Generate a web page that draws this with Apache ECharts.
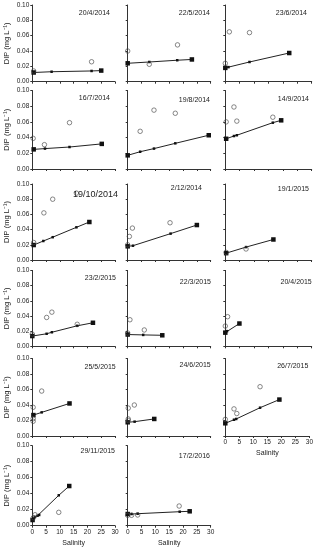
<!DOCTYPE html>
<html><head><meta charset="utf-8">
<script src="https://cdn.jsdelivr.net/npm/echarts@6/dist/echarts.min.js"></script>
<style>html,body{margin:0;padding:0;background:#fff}#c{width:316px;height:550px}</style>
</head><body><div id="c"></div>
<script>
const titles = ['20/4/2014','22/5/2014','23/6/2014','16/7/2014','19/8/2014','14/9/2014','19/10/2014','2/12/2014','19/1/2015','23/2/2015','22/3/2015','20/4/2015','25/5/2015','24/6/2015','26/7/2015','29/11/2015','17/2/2016'];
const xTicks = [0,5,10,15,20,25,30];
const yTicks = [0,0.02,0.04,0.06,0.08,0.10];
// mixing line (filled markers)
const mixSal = [
 [0.5,7,21.5,25],[0,7.8,17.9,23.2],[0,1.1,8.4,22.2],
 [0.5,4.6,13.5,25.2],[0,4.5,9.5,17.2,29.3],[0.3,3,4,16.5,19.4],
 [0.5,4,7.4,16,20.7],[0,1.9,15.5,25],[0.3,7.2,16.7],
 [0,5.2,7.1,16.3,22],[0,5.6,12.5],[0,0.6,4.9],
 [0.4,3.4,13.5],[0,2.5,9.6],[0,3.1,3.9,12.4,19.3],
 [0.1,0.4,1,1.9,2.5,9.6,13.4],[0,1.4,3.6,18.8,22.4]
];
const mixDip = [
 [0.012,0.013,0.014,0.0145],[0.024,0.0257,0.028,0.029],[0.018,0.019,0.0257,0.0374],
 [0.025,0.026,0.028,0.032],[0.0174,0.022,0.026,0.0327,0.043],[0.0385,0.042,0.043,0.059,0.062],
 [0.0197,0.025,0.030,0.043,0.050],[0.018,0.0188,0.0347,0.046],[0.009,0.017,0.027],
 [0.0135,0.0165,0.0185,0.027,0.031],[0.0155,0.015,0.0145],[0.018,0.020,0.030],
 [0.027,0.0305,0.042],[0.0177,0.0185,0.022],[0.0164,0.021,0.022,0.0365,0.047],
 [0.0071,0.009,0.011,0.0125,0.0134,0.038,0.0496],[0.0146,0.0146,0.0150,0.0175,0.018]
];
// measured (open circles)
const obsSal = [
 [0.5,21.5],[0,7.8,18],[0,1.4,8.4],
 [0.3,4.4,13.5],[4.5,9.5,17.2],[0.3,3,4,16.5],
 [0.5,4.2,7.4,16],[0,0.6,1.7,15.3],[0.3,7.2],
 [0,5.2,7.1,16.3],[0,0.8,6],[0,0.8],
 [0.3,0.3,0.3,3.4],[0.2,2.4,0.2,0.2],[0,3.1,4.1,12.4],
 [0.4,1,9.6],[0,1.4,3.6,18.6]
];
const obsDip = [
 [0.014,0.026],[0.040,0.0227,0.048],[0.024,0.065,0.064],
 [0.039,0.031,0.059],[0.048,0.075,0.071],[0.060,0.079,0.061,0.066],
 [0.023,0.062,0.080,0.088],[0.02,0.031,0.042,0.049],[0.01,0.0145],
 [0.016,0.038,0.045,0.029],[0.0175,0.035,0.0215],[0.0267,0.039],
 [0.037,0.0223,0.019,0.058],[0.036,0.040,0.022,0.020],[0.0215,0.035,0.029,0.0636],
 [0.010,0.0137,0.0167],[0.013,0.013,0.0134,0.0246]
];

// layout
const colLeft = [32.3,127.7,225.3], colWidth = [82.7,83,86.4];
const rowTop = [5,90.5,184,270.4,358.5,445.7], rowBottom = [81.7,169,260,346.3,436,525.7];
const titleRight = [110,210,307,110,210,309,118,202,309,116,211,311.7,115.7,210.7,308.3,115,210];
const titleY = [14,14,14,99,100.7,100,196,189.3,190,279.3,283.3,283,368.3,366,366.7,452.3,457.3];
const xLabelPanels = [14,15,16];
const FONT = '"Liberation Sans", Arial, sans-serif';

const grid=[], xAxis=[], yAxis=[], series=[], title=[];
titles.forEach((t,i)=>{
  const r=Math.floor(i/3), c=i%3;
  grid.push({left:colLeft[c], width:colWidth[c], top:rowTop[r], height:rowBottom[r]-rowTop[r], containLabel:false});
  const fs = (i===6)?9:7;
  title.push({text:t, right:316-titleRight[i], top:titleY[i]-fs/2-1, padding:0,
    textStyle:{fontSize:fs, fontWeight:'normal', color:'#222', fontFamily:FONT}});
  const showX = xLabelPanels.includes(i);
  xAxis.push({gridIndex:i, type:'value', min:xTicks[0], max:xTicks[xTicks.length-1], interval:5,
    axisLine:{show:true, onZero:false, lineStyle:{color:'#333', width:1}},
    axisTick:{show:true, length:2, lineStyle:{color:'#333'}},
    axisLabel:{show:showX, fontSize:6.5, margin:3, color:'#222', fontFamily:FONT},
    splitLine:{show:false},
    name: showX?'Salinity':'', nameLocation:'middle', nameGap:14,
    nameTextStyle:{fontSize:7, color:'#222', fontFamily:FONT}});
  yAxis.push({gridIndex:i, type:'value', min:yTicks[0], max:yTicks[yTicks.length-1], interval:0.02,
    axisLine:{show:true, onZero:false, lineStyle:{color:'#333', width:1}},
    axisTick:{show:true, length:2, lineStyle:{color:'#333'}},
    axisLabel:{show:c===0, fontSize:6.5, margin:3, color:'#222', fontFamily:FONT, formatter:v=>v.toFixed(2)},
    splitLine:{show:false},
    name: c===0?'DIP (mg L⁻¹)':'', nameLocation:'middle', nameGap:21, nameRotate:90,
    nameTextStyle:{fontSize:7.5, color:'#222', fontFamily:FONT}});
  const n = mixSal[i].length;
  series.push({type:'line', xAxisIndex:i, yAxisIndex:i, symbol:'rect', showSymbol:true,
    data: mixSal[i].map((s,j)=>({value:[s,mixDip[i][j]], symbolSize:(j===0||j===n-1)?4.5:2.5})),
    lineStyle:{color:'#222', width:1}, itemStyle:{color:'#111'}, z:2, clip:false, animation:false});
  series.push({type:'scatter', xAxisIndex:i, yAxisIndex:i, symbol:'circle', symbolSize:4.5,
    data: obsSal[i].map((s,j)=>[s,obsDip[i][j]]),
    itemStyle:{color:'rgba(255,255,255,0)', borderColor:'#444', borderWidth:0.8}, z:3, clip:false, animation:false});
});

const chart = echarts.init(document.getElementById('c'), null, {renderer:'canvas'});
chart.setOption({animation:false, backgroundColor:'#fff', title, grid, xAxis, yAxis, series});
</script>
</body></html>
